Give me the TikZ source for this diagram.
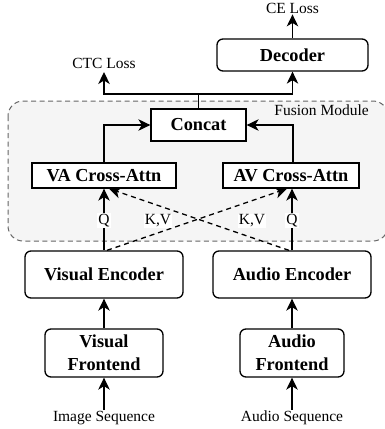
\documentclass[tikz,border=0pt]{standalone}
\usepackage{fontspec}
\setmainfont{Liberation Serif}
\usetikzlibrary{arrows.meta}
\begin{document}
\begin{tikzpicture}[x=1pt,y=-1pt,
  box/.style={draw=black, line width=1.3pt, fill=white, inner sep=0pt, align=center,
    font=\fontsize{18.3}{23}\selectfont\bfseries},
  rbox/.style={box, rounded corners=6pt},
  lbl/.style={inner sep=1pt, font=\fontsize{15.5}{17}\selectfont},
  wlbl/.style={lbl, fill=white},
  arr/.style={line width=1.3pt, -{Stealth[length=12pt,width=11.5pt,inset=3.5pt]}},
  darr/.style={arr, dashed, dash pattern=on 5pt off 4pt}
]
\useasboundingbox (0,0) rectangle (385,429);
% fusion module
\draw[dashed, dash pattern=on 5pt off 3.5pt, draw=black!60, fill=black!4, line width=1pt, rounded corners=15pt]
  (8,101) rectangle (388,241);
\node[lbl, anchor=east] (fm) at (370,110) {Fusion Module};

% nodes
\node[rbox, minimum width=151pt, minimum height=32pt] (dec) at (292.5,55) {Decoder};
\node[box, minimum width=95pt, minimum height=32pt] (concat) at (198.5,125) {Concat};
\node[box, minimum width=144pt, minimum height=25pt] (va) at (104,175.5) {VA Cross-Attn};
\node[box, minimum width=136pt, minimum height=25pt] (av) at (291,175.5) {AV Cross-Attn};
\node[rbox, minimum width=158pt, minimum height=47pt] (venc) at (104,274.5) {Visual Encoder};
\node[rbox, minimum width=158pt, minimum height=47pt] (aenc) at (292,274.5) {Audio Encoder};
\node[rbox, minimum width=118pt, minimum height=48pt] (vfe) at (104,353) {Visual\\Frontend};
\node[rbox, minimum width=104pt, minimum height=48pt] (afe) at (292,353) {Audio\\Frontend};

\node[lbl] (ce) at (292.5,8) {CE Loss};
\node[lbl] (ctc) at (104,63) {CTC Loss};
\node[lbl] (img) at (104,418) {Image Sequence};
\node[lbl] (aud) at (292,418) {Audio Sequence};

\coordinate (split) at (198.5,94);
\coordinate (ctcend) at (104,72);

% connectors
\draw[arr] (dec.north) -- (ce.south);
\draw[line width=1.3pt] (concat.north) -- (split);
\draw[arr] (split) -| (ctcend);
\draw[arr] (split) -| (dec.south);
\draw[arr] (va.north) |- (concat.west);
\draw[arr] ([xshift=2pt]av.north) |- (concat.east);

\draw[darr] ([xshift=3pt]venc.north) -- ([xshift=-4pt]av.south);
\draw[darr] ([xshift=-3pt]aenc.north) -- ([xshift=5pt]va.south);
\draw[arr] (venc.north) -- (va.south) node[wlbl, pos=0.48] (q1) {Q};
\draw[arr] (aenc.north) -- ([xshift=1pt]av.south) node[wlbl, pos=0.48] (q2) {Q};
\node[wlbl] (kv1) at (158,221) {K,V};
\node[wlbl] (kv2) at (252,221) {K,V};

\draw[arr] (vfe.north) -- (venc.south);
\draw[arr] (afe.north) -- (aenc.south);
\draw[arr] (img.north) -- (vfe.south);
\draw[arr] (aud.north) -- (afe.south);
\end{tikzpicture}
\end{document}
